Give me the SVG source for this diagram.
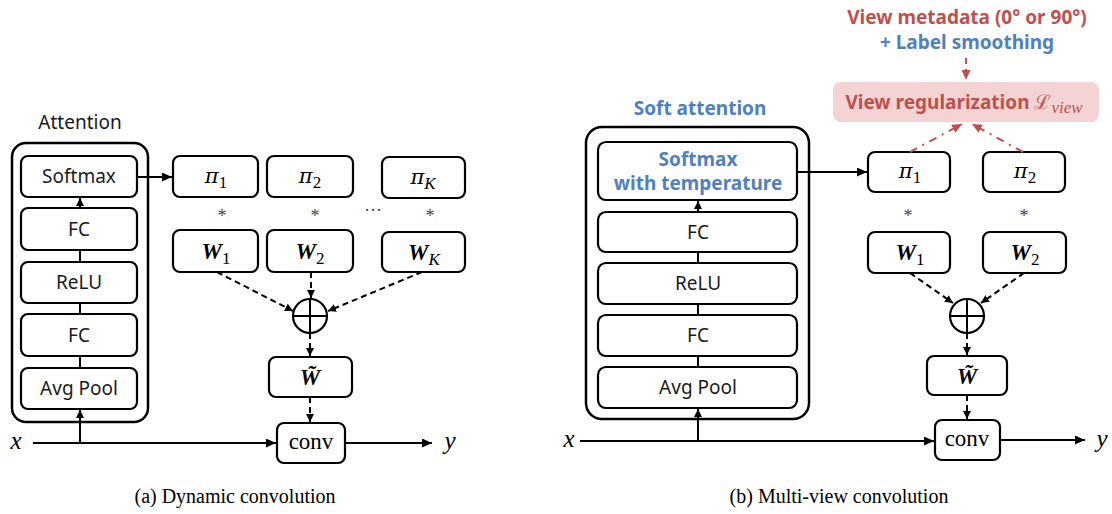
<svg xmlns="http://www.w3.org/2000/svg" width="1112" height="514" viewBox="0 0 1112 514">
<style>
.box{fill:#fff;stroke:#000;stroke-width:2.2}
.outer{fill:none;stroke:#000;stroke-width:2.5}
.lbl{font-family:"Noto Sans","Open Sans",sans-serif;font-size:19px;fill:#1a1a1a;text-anchor:middle}
.math{font-family:"DejaVu Serif","Liberation Serif",serif;font-style:italic;font-size:21px;fill:#000;text-anchor:middle}
.bmath{font-family:"Liberation Serif","DejaVu Serif",serif;font-style:italic;font-weight:bold;font-size:23px;fill:#000;text-anchor:middle}
.sub{font-family:"Liberation Serif",serif;font-size:17px;font-style:normal;font-weight:normal}
.subi{font-family:"Liberation Serif",serif;font-size:17px;font-style:italic;font-weight:normal}
.ast{font-family:"Liberation Serif",serif;font-size:18px;fill:#444;text-anchor:middle}
.cap{font-family:"Liberation Serif",serif;font-size:20px;fill:#000;text-anchor:middle}
.conv{font-family:"Liberation Serif",serif;font-size:23px;fill:#000;text-anchor:middle}
.xy{font-family:"Liberation Serif",serif;font-style:italic;font-size:25px;fill:#000;text-anchor:middle}
.red{fill:#c0504d}
.blue{fill:#4f81bd}
.bold{font-family:"Noto Sans","Open Sans",sans-serif;font-weight:bold;font-size:19px;text-anchor:middle}
.line{stroke:#000;stroke-width:2;fill:none}
.dash{stroke:#000;stroke-width:2;fill:none;stroke-dasharray:6,4}
.rdash{stroke:#c0504d;stroke-width:2;fill:none;stroke-dasharray:6,5}
.rdashdot{stroke:#c0504d;stroke-width:2;fill:none;stroke-dasharray:8,6,2,6}
</style>
<defs>
<marker id="ah" markerUnits="userSpaceOnUse" markerWidth="10" markerHeight="9" viewBox="0 0 10 9" refX="10" refY="4.5" orient="auto"><path d="M0,0 L10,4.5 L0,9 z" fill="#000"/></marker>
<marker id="ahs" markerUnits="userSpaceOnUse" markerWidth="8" markerHeight="8" viewBox="0 0 8 8" refX="8" refY="4" orient="auto"><path d="M0,0 L8,4 L0,8 z" fill="#000"/></marker>
<marker id="ahr" markerUnits="userSpaceOnUse" markerWidth="10" markerHeight="9" viewBox="0 0 10 9" refX="10" refY="4.5" orient="auto"><path d="M0,0 L10,4.5 L0,9 z" fill="#c0504d"/></marker>
</defs>

<!-- ===== Panel (a) ===== -->
<text x="80" y="129" class="lbl">Attention</text>
<g id="a-attention"><rect x="12" y="143" width="136" height="279" rx="14" class="outer"/></g>
<g id="a-softmax"><rect x="21" y="156" width="116" height="41" rx="7" class="box"/><text x="79" y="183" class="lbl">Softmax</text></g>
<g id="a-fc1"><rect x="21" y="208" width="116" height="42" rx="7" class="box"/><text x="79" y="236" class="lbl">FC</text></g>
<g id="a-relu"><rect x="21" y="262" width="116" height="41" rx="7" class="box"/><text x="79" y="289" class="lbl">ReLU</text></g>
<g id="a-fc2"><rect x="21" y="314" width="116" height="42" rx="7" class="box"/><text x="79" y="342" class="lbl">FC</text></g>
<g id="a-avgpool"><rect x="21" y="368" width="116" height="41" rx="7" class="box"/><text x="79" y="395" class="lbl">Avg Pool</text></g>

<g id="a-pi1"><rect x="173" y="156" width="85" height="41" rx="7" class="box"/><text x="216" y="183" class="math">π<tspan class="sub" dy="5">1</tspan></text></g>
<g id="a-pi2"><rect x="267" y="156" width="86" height="41" rx="7" class="box"/><text x="310" y="183" class="math">π<tspan class="sub" dy="5">2</tspan></text></g>
<g id="a-piK"><rect x="382" y="157" width="83" height="41" rx="7" class="box"/><text x="423" y="184" class="math">π<tspan class="subi" dy="5">K</tspan></text></g>
<text x="222" y="222" class="ast">*</text>
<text x="315" y="222" class="ast">*</text>
<text x="430" y="222" class="ast">*</text>
<text x="373" y="216" class="ast">···</text>
<g id="a-W1"><rect x="173" y="230" width="85" height="42" rx="7" class="box"/><text x="216" y="259" class="bmath">W<tspan class="sub" dy="5">1</tspan></text></g>
<g id="a-W2"><rect x="267" y="230" width="86" height="42" rx="7" class="box"/><text x="310" y="259" class="bmath">W<tspan class="sub" dy="5">2</tspan></text></g>
<g id="a-WK"><rect x="382" y="232" width="83" height="40" rx="7" class="box"/><text x="424" y="260" class="bmath">W<tspan class="subi" dy="5">K</tspan></text></g>
<g id="a-sum"><circle cx="310" cy="316" r="17" class="box"/><path d="M293,316 H327 M310,299 V333" class="line"/></g>
<g id="a-Wt"><rect x="269" y="357" width="83" height="40" rx="7" class="box"/><text x="310" y="385" class="bmath" font-family="DejaVu Serif,serif" font-size="20">W&#x303;</text></g>
<g id="a-conv"><rect x="277" y="423" width="68" height="40" rx="7" class="box"/><text x="311" y="449" class="conv">conv</text></g>
<text x="16" y="449" class="xy">x</text>
<text x="450" y="449" class="xy">y</text>

<g id="a-connectors">
<line x1="137" y1="177" x2="172" y2="177" class="line" marker-end="url(#ah)"/>
<line x1="80" y1="208" x2="80" y2="198" class="line" marker-end="url(#ahs)"/>
<line x1="80" y1="262" x2="80" y2="250" class="line"/>
<line x1="80" y1="314" x2="80" y2="303" class="line"/>
<line x1="80" y1="368" x2="80" y2="356" class="line"/>
<line x1="33" y1="443" x2="276" y2="443" class="line" marker-end="url(#ah)"/>
<line x1="80" y1="443" x2="80" y2="410" class="line" marker-end="url(#ahs)"/>
<line x1="345" y1="443" x2="432" y2="443" class="line" marker-end="url(#ah)"/>
<line x1="217" y1="272" x2="293" y2="311" class="dash" marker-end="url(#ahs)"/>
<line x1="311" y1="272" x2="311" y2="298" class="dash" marker-end="url(#ahs)"/>
<line x1="422" y1="272" x2="328" y2="311" class="dash" marker-end="url(#ahs)"/>
<line x1="310" y1="333" x2="310" y2="356" class="dash" marker-end="url(#ahs)"/>
<line x1="310" y1="397" x2="310" y2="422" class="dash" marker-end="url(#ahs)"/>
</g>
<text x="235" y="503" class="cap">(a) Dynamic convolution</text>

<!-- ===== Panel (b) ===== -->
<text x="700" y="115" class="bold blue">Soft attention</text>
<g id="b-attention"><rect x="586" y="127" width="223" height="292" rx="16" class="outer"/></g>
<g id="b-softmax"><rect x="598" y="142" width="199" height="58" rx="8" class="box"/><text x="698" y="166" class="bold blue">Softmax</text><text x="698" y="190" class="bold blue">with temperature</text></g>
<g id="b-fc1"><rect x="598" y="212" width="199" height="40" rx="8" class="box"/><text x="698" y="239" class="lbl">FC</text></g>
<g id="b-relu"><rect x="598" y="263" width="199" height="41" rx="8" class="box"/><text x="698" y="290" class="lbl">ReLU</text></g>
<g id="b-fc2"><rect x="598" y="315" width="199" height="41" rx="8" class="box"/><text x="698" y="342" class="lbl">FC</text></g>
<g id="b-avgpool"><rect x="598" y="367" width="199" height="41" rx="8" class="box"/><text x="698" y="394" class="lbl">Avg Pool</text></g>

<g id="b-meta"><text x="967" y="24" class="bold red" font-size="19.8">View metadata (0° or 90°)</text><text x="967" y="49" class="bold blue">+ Label smoothing</text></g>
<g id="b-viewreg"><rect x="833" y="82" width="266" height="40" rx="8" fill="#f3d3d3"/><text x="964" y="109" class="bold red">View regularization <tspan font-family="DejaVu Serif,serif" font-weight="normal" font-size="20">ℒ</tspan><tspan font-family="Liberation Serif,serif" font-style="italic" font-weight="normal" font-size="17" dy="4">view</tspan></text></g>

<g id="b-pi1"><rect x="868" y="152" width="82" height="40" rx="7" class="box"/><text x="910" y="178" class="math">π<tspan class="sub" dy="5">1</tspan></text></g>
<g id="b-pi2"><rect x="983" y="152" width="82" height="40" rx="7" class="box"/><text x="1025" y="178" class="math">π<tspan class="sub" dy="5">2</tspan></text></g>
<text x="908" y="222" class="ast">*</text>
<text x="1024" y="222" class="ast">*</text>
<g id="b-W1"><rect x="868" y="232" width="82" height="41" rx="7" class="box"/><text x="910" y="260" class="bmath">W<tspan class="sub" dy="5">1</tspan></text></g>
<g id="b-W2"><rect x="983" y="232" width="83" height="41" rx="7" class="box"/><text x="1025" y="260" class="bmath">W<tspan class="sub" dy="5">2</tspan></text></g>
<g id="b-sum"><circle cx="967" cy="316" r="17" class="box"/><path d="M950,316 H984 M967,299 V333" class="line"/></g>
<g id="b-Wt"><rect x="927" y="356" width="80" height="39" rx="7" class="box"/><text x="967" y="384" class="bmath" font-family="DejaVu Serif,serif" font-size="20">W&#x303;</text></g>
<g id="b-conv"><rect x="935" y="420" width="65" height="40" rx="7" class="box"/><text x="967" y="446" class="conv">conv</text></g>
<text x="569" y="447" class="xy">x</text>
<text x="1102" y="447" class="xy">y</text>

<g id="b-connectors">
<line x1="797" y1="172" x2="867" y2="172" class="line" marker-end="url(#ah)"/>
<line x1="698" y1="212" x2="698" y2="201" class="line" marker-end="url(#ahs)"/>
<line x1="698" y1="263" x2="698" y2="252" class="line"/>
<line x1="698" y1="315" x2="698" y2="304" class="line"/>
<line x1="698" y1="367" x2="698" y2="356" class="line"/>
<line x1="580" y1="441" x2="934" y2="441" class="line" marker-end="url(#ah)"/>
<line x1="698" y1="441" x2="698" y2="409" class="line" marker-end="url(#ahs)"/>
<line x1="1000" y1="440" x2="1085" y2="440" class="line" marker-end="url(#ah)"/>
<line x1="910" y1="273" x2="953" y2="303" class="dash" marker-end="url(#ahs)"/>
<line x1="1024" y1="273" x2="981" y2="303" class="dash" marker-end="url(#ahs)"/>
<line x1="967" y1="333" x2="967" y2="355" class="dash" marker-end="url(#ahs)"/>
<line x1="967" y1="395" x2="967" y2="419" class="dash" marker-end="url(#ahs)"/>
<line x1="966" y1="58" x2="966" y2="80" class="rdash" marker-end="url(#ahr)"/>
<line x1="910" y1="152" x2="962" y2="124" class="rdashdot" marker-end="url(#ahr)"/>
<line x1="1023" y1="152" x2="972" y2="124" class="rdashdot" marker-end="url(#ahr)"/>
</g>
<text x="839" y="503" class="cap">(b) Multi-view convolution</text>
</svg>
